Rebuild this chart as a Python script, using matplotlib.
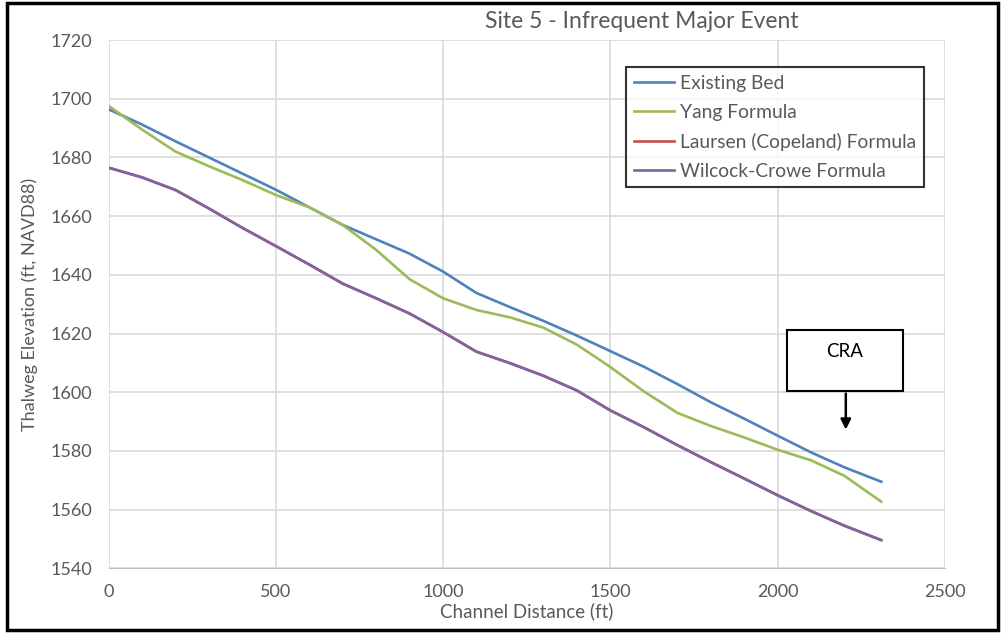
import matplotlib
matplotlib.use('Agg')
import matplotlib.pyplot as plt
from matplotlib.patches import Rectangle

# channel distance (ft) and thalweg elevations (ft, NAVD88)
distance = [0, 100, 200, 300, 400, 500, 600, 700, 800, 900, 1000, 1100,
            1200, 1300, 1400, 1500, 1600, 1700, 1800, 1900, 2000, 2100, 2200, 2310]
existing_bed = [1696.4, 1691.2, 1685.5, 1680.0, 1674.5, 1669.0, 1663.0, 1657.0,
                1652.1, 1647.2, 1641.1, 1633.8, 1629.0, 1624.3, 1619.3, 1614.0,
                1608.7, 1602.8, 1596.6, 1591.0, 1585.2, 1579.5, 1574.4, 1569.5]
yang = [1697.6, 1689.5, 1682.0, 1677.0, 1672.3, 1667.2, 1663.0, 1657.0,
        1648.5, 1638.5, 1632.0, 1628.0, 1625.5, 1622.0, 1616.2, 1608.6,
        1600.3, 1593.0, 1588.5, 1584.6, 1580.4, 1576.8, 1571.5, 1562.7]
wilcock_crowe = [1676.5, 1673.2, 1668.9, 1662.6, 1656.0, 1649.8, 1643.5, 1637.0,
                 1632.0, 1626.8, 1620.5, 1613.8, 1609.9, 1605.6, 1600.6, 1593.8,
                 1588.1, 1582.0, 1576.2, 1570.6, 1564.9, 1559.5, 1554.5, 1549.6]
# Laursen (Copeland) line is hidden under the Wilcock-Crowe line
laursen = list(wilcock_crowe)

x_ticks = [0, 500, 1000, 1500, 2000, 2500]
y_ticks = list(range(1540, 1721, 20))

plt.rcParams['font.family'] = ['Lato', 'DejaVu Sans']

fig = plt.figure(figsize=(10.03, 6.33), dpi=100)
ax = fig.add_axes([0.1082, 0.1022, 0.8338, 0.8346])

ax.plot(distance, existing_bed, color='#4F81BD', linewidth=1.9, label='Existing Bed')
ax.plot(distance, yang, color='#9BBB59', linewidth=1.9, label='Yang Formula')
ax.plot(distance, laursen, color='#C0504D', linewidth=1.9, label='Laursen (Copeland) Formula')
ax.plot(distance, wilcock_crowe, color='#8064A2', linewidth=1.9, label='Wilcock-Crowe Formula')

ax.set_xlim(0, 2500)
ax.set_ylim(1540, 1720)
ax.set_xticks(x_ticks)
ax.set_yticks(y_ticks)
ax.grid(True, color='#D9D9D9', linewidth=1.2)
ax.set_axisbelow(True)
for s in ['top', 'right', 'left']:
    ax.spines[s].set_visible(False)
ax.spines['bottom'].set_color('#BFBFBF')
ax.tick_params(length=0, labelsize=13, labelcolor='#595959', pad=11)
ax.tick_params(axis='y', pad=12)

ax.set_xlabel('Channel Distance (ft)', fontsize=13.5, color='#595959', labelpad=2)
ax.set_ylabel('Thalweg Elevation (ft, NAVD88)', fontsize=13, color='#595959', labelpad=9)

fig.text(0.640, 0.966, 'Site 5 - Infrequent Major Event', fontsize=16.5,
         color='#595959', ha='center', va='center')

leg = ax.legend(loc='upper left', bbox_to_anchor=(0.6187, 0.949), fontsize=13.9,
                frameon=True, fancybox=False, handlelength=2.1, handletextpad=0.3,
                borderpad=0.4, borderaxespad=0, labelspacing=0.62, labelcolor='#595959')
leg.get_frame().set_edgecolor('black')
leg.get_frame().set_linewidth(1.5)

# CRA callout box with arrow
ax.add_patch(Rectangle((2029, 1600.5), 345, 20.7, facecolor='white',
                       edgecolor='black', linewidth=1.5, zorder=5))
ax.text(2201, 1614, 'CRA', fontsize=13.5, color='black', ha='center',
        va='center', zorder=6)
ax.annotate('', xy=(2204, 1586.3), xytext=(2204, 1600.5),
            arrowprops=dict(arrowstyle='-|>', color='black', lw=1.8,
                            mutation_scale=15), zorder=6)

# outer border of the picture
fig.patches.append(Rectangle((0.007, 0.005), 0.988, 0.99, transform=fig.transFigure,
                             fill=False, edgecolor='black', linewidth=2.5))

plt.savefig('out.png', dpi=100)
